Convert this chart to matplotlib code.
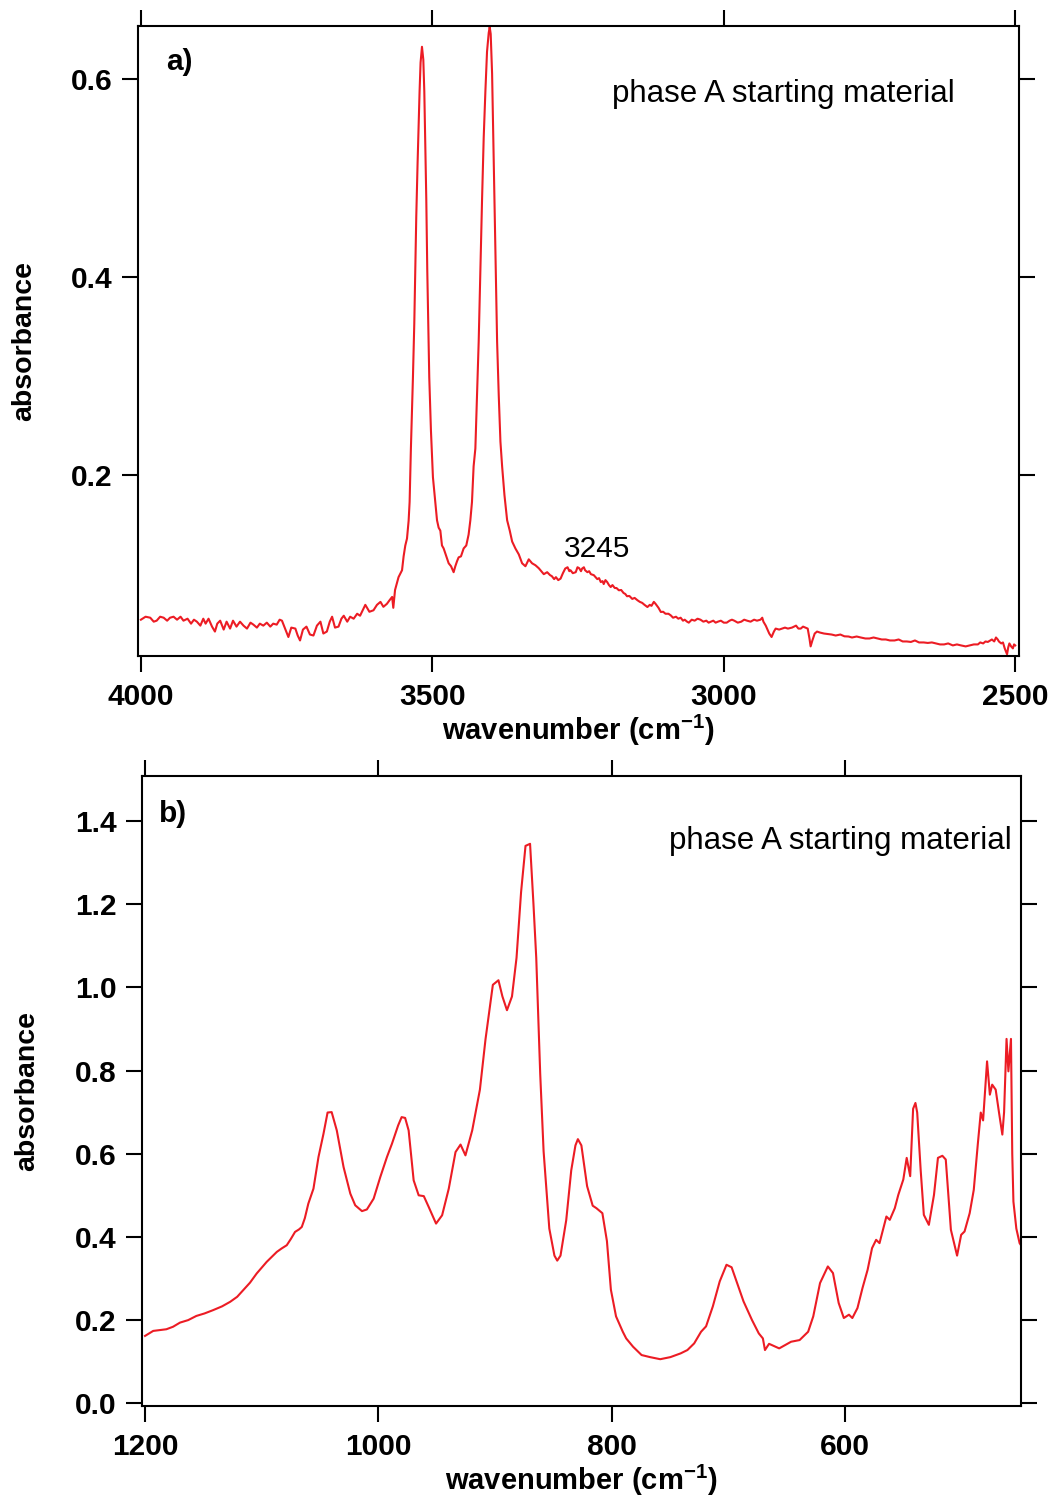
import numpy as np
import matplotlib
matplotlib.use('Agg')
import matplotlib.pyplot as plt

plt.rcParams['font.family'] = ['Liberation Sans', 'DejaVu Sans']
plt.rcParams['mathtext.fontset'] = 'custom'
plt.rcParams['mathtext.rm'] = 'Liberation Sans'
plt.rcParams['mathtext.bf'] = 'Liberation Sans:bold'

# panel a: OH stretching region (wavenumber, absorbance)
wn_a = [4000, 3992, 3984, 3978, 3973, 3967, 3961, 3955, 3950, 3944, 3938, 3932, 3927, 3920,
        3914, 3909, 3904, 3898, 3893, 3889, 3884, 3878, 3873, 3869, 3864, 3858, 3853, 3847,
        3842, 3836, 3830, 3824, 3818, 3812, 3807, 3801, 3796, 3790, 3784, 3778, 3773, 3767,
        3762, 3758, 3752, 3747, 3742, 3735, 3731, 3727, 3722, 3716, 3710, 3704, 3698, 3692,
        3687, 3681, 3676, 3672, 3667, 3661, 3656, 3652, 3646, 3641, 3635, 3629, 3624, 3619,
        3615, 3608, 3601, 3595, 3589, 3584, 3578, 3573, 3569, 3567, 3564, 3558, 3552,
        3549.3, 3546.4, 3543.5, 3540.7, 3539, 3536.8, 3535, 3533.3, 3531, 3529.3, 3527.6, 3525.3,
        3523.6, 3521.9, 3520.2, 3517.8, 3515.5, 3513.8, 3512.1, 3510.4, 3508.7, 3507, 3505.3,
        3502.4, 3499, 3494.9, 3492, 3489.2, 3486.3, 3483.5, 3480.6, 3476, 3472, 3467.9, 3463.5,
        3460.6, 3457.7, 3454.9, 3450.9, 3446.3, 3441.8, 3437.8, 3434.8, 3432, 3429.2, 3426.2,
        3423.3, 3420.5, 3417.6, 3414.7, 3411.9, 3409, 3406.2, 3403.3, 3401.6, 3399.9, 3397.5,
        3395.8, 3393.5, 3391.3, 3388.9, 3386.1, 3383.2, 3380.3, 3376.3, 3371.7, 3367.2, 3363.1,
        3357.5, 3351.7, 3346, 3340.3, 3334.6, 3328.9, 3323.1, 3317.4, 3308.8,
        3303, 3298, 3295, 3291, 3288, 3284, 3280, 3276, 3272, 3268, 3265, 3263, 3259, 3254,
        3251, 3248, 3245, 3243, 3240, 3238, 3234, 3231, 3228, 3223, 3220, 3217, 3214, 3211,
        3208, 3206, 3203, 3200, 3197, 3194, 3191, 3187, 3184, 3180, 3176, 3172, 3169, 3166,
        3162, 3157, 3153, 3148, 3144, 3140, 3136, 3131, 3127, 3124, 3120, 3117, 3112, 3108,
        3104, 3100, 3095, 3091, 3087, 3082, 3078, 3074, 3070, 3067, 3063, 3060, 3055, 3050,
        3045, 3040, 3035, 3030, 3026, 3022, 3018, 3014, 3010, 3005, 3000, 2995, 2990, 2986,
        2982, 2976, 2970, 2965, 2960, 2954, 2948, 2943, 2937, 2934, 2932, 2928, 2922, 2918,
        2914, 2911, 2905, 2900, 2895, 2890, 2883, 2876, 2872, 2868, 2864, 2860, 2856, 2853,
        2851, 2848, 2844, 2840, 2835, 2828, 2822, 2815, 2808, 2800, 2793, 2786, 2780, 2772,
        2765, 2757, 2750, 2743, 2736, 2729, 2722, 2715, 2707, 2700, 2693, 2686, 2679, 2672,
        2665, 2657, 2650, 2643, 2636, 2629, 2622, 2615, 2607, 2600, 2593, 2585, 2578, 2571,
        2564, 2560, 2555, 2551, 2547, 2543, 2540, 2536, 2533, 2530, 2528, 2524, 2521, 2518,
        2514, 2512, 2510, 2507, 2504, 2502, 2500]
abs_a = [0.054, 0.057, 0.056, 0.052, 0.053, 0.057, 0.056, 0.053, 0.056, 0.057, 0.054, 0.057, 0.053, 0.055,
         0.050, 0.054, 0.052, 0.048, 0.055, 0.050, 0.055, 0.047, 0.042, 0.050, 0.053, 0.044, 0.052, 0.045,
         0.053, 0.047, 0.052, 0.048, 0.045, 0.051, 0.049, 0.046, 0.050, 0.048, 0.051, 0.047, 0.050, 0.049,
         0.054, 0.053, 0.044, 0.0365, 0.046, 0.045, 0.038, 0.033, 0.044, 0.047, 0.039, 0.038, 0.048, 0.052,
         0.040, 0.042, 0.052, 0.057, 0.046, 0.047, 0.055, 0.058, 0.052, 0.057, 0.055, 0.060, 0.058, 0.064,
         0.069, 0.062, 0.0635, 0.069, 0.072, 0.067, 0.070, 0.074, 0.077, 0.066, 0.084, 0.097, 0.104,
         0.118, 0.129, 0.136, 0.154, 0.173, 0.227, 0.263, 0.299, 0.353, 0.407, 0.461, 0.516,
         0.552, 0.588, 0.617, 0.633, 0.620, 0.588, 0.534, 0.479, 0.407, 0.353, 0.299,
         0.245, 0.198, 0.173, 0.1545, 0.147, 0.144, 0.129, 0.126, 0.118, 0.111, 0.108, 0.102,
         0.108, 0.113, 0.117, 0.118, 0.126, 0.129, 0.140, 0.1545, 0.173, 0.209, 0.227,
         0.281, 0.335, 0.407, 0.479, 0.541, 0.588, 0.628, 0.647, 0.653, 0.646, 0.606,
         0.552, 0.479, 0.407, 0.335, 0.281, 0.234, 0.209, 0.180, 0.1545, 0.144, 0.133,
         0.126, 0.120, 0.111, 0.108, 0.115, 0.111, 0.109, 0.106, 0.100,
         0.102, 0.099, 0.098, 0.095, 0.097, 0.094, 0.0955, 0.101, 0.1057, 0.107, 0.103, 0.104, 0.101, 0.102,
         0.107, 0.106, 0.103, 0.1057, 0.107, 0.104, 0.102, 0.103, 0.100, 0.099, 0.097, 0.095, 0.096, 0.092,
         0.093, 0.090, 0.094, 0.092, 0.089, 0.087, 0.089, 0.086, 0.086, 0.0837, 0.084, 0.081, 0.080, 0.0777,
         0.078, 0.075, 0.076, 0.0736, 0.072, 0.071, 0.069, 0.0668, 0.069, 0.068, 0.072, 0.070, 0.066, 0.0618,
         0.062, 0.060, 0.060, 0.0584, 0.056, 0.057, 0.055, 0.056, 0.053, 0.054, 0.052, 0.051, 0.054, 0.053,
         0.055, 0.054, 0.052, 0.053, 0.051, 0.052, 0.053, 0.051, 0.052, 0.053, 0.051, 0.051, 0.053, 0.054,
         0.053, 0.051, 0.052, 0.054, 0.053, 0.052, 0.054, 0.053, 0.054, 0.056, 0.052, 0.048, 0.040, 0.0365,
         0.042, 0.045, 0.044, 0.045, 0.046, 0.045, 0.046, 0.048, 0.045, 0.045, 0.047, 0.046, 0.045, 0.035,
         0.027, 0.033, 0.040, 0.042, 0.041, 0.040, 0.0395, 0.039, 0.038, 0.039, 0.0372, 0.037, 0.036, 0.037,
         0.036, 0.035, 0.035, 0.036, 0.035, 0.034, 0.034, 0.033, 0.033, 0.034, 0.032, 0.032, 0.0315, 0.033,
         0.031, 0.031, 0.0305, 0.031, 0.030, 0.029, 0.029, 0.030, 0.028, 0.029, 0.028, 0.027, 0.028, 0.029,
         0.029, 0.031, 0.030, 0.032, 0.0315, 0.033, 0.034, 0.032, 0.036, 0.034, 0.032, 0.030, 0.031, 0.025,
         0.019, 0.026, 0.030, 0.027, 0.025, 0.029, 0.028]

# panel b: lattice region
wn_b = [1200, 1193, 1187, 1181.7, 1176, 1170, 1163, 1156, 1149, 1141.6, 1134, 1127, 1121, 1115.8,
        1110, 1104.3, 1100, 1095.7, 1091, 1087, 1083, 1078.5, 1075, 1071.4, 1068, 1065.6, 1063,
        1060, 1055.6, 1051.3, 1047, 1043.5, 1040, 1035.6, 1029.8, 1024, 1019.8, 1014, 1009.8,
        1004, 998.3, 992.6, 988.3, 983, 980, 977, 974, 969.7, 965.4, 961, 956.8, 950.5, 945.3,
        939.6, 933.8, 929.5, 925.3, 919.5, 912.9, 908.1, 901.8, 897, 893.6, 889.7, 885.4, 881.5,
        877.6, 873.8, 869.9, 867, 864.6, 861.2, 858.3, 853.4, 849, 846.6, 843.8, 838.9, 834.6,
        831, 828.9, 825.9, 821, 816.2, 813, 807.9, 804, 800.6, 796.2, 790.4, 787.5, 781.6, 774.3,
        767, 758.3, 749.6, 740.8, 735, 729.2, 723.3, 719, 713.2, 707.3, 701.5, 697.1, 686.9,
        679.6, 673.8, 670.3, 668.5, 665, 656.3, 646.1,
        638.8, 631.5, 627.1, 621.3, 614.6, 610.2, 605.3, 600.9, 596.5, 593.6, 589.2, 584.9, 580.5,
        576.7, 573.2, 570.3, 564.4, 561.5, 557.2, 554.2, 549.9, 547, 544, 541.5, 539.5, 538, 535,
        532.3, 528, 523.6, 520.2, 516.4, 513.5, 509.1, 503.8, 500.3, 497.4, 493, 489.5, 486,
        483.5, 481.5, 478.1, 475.7, 473.7, 470.7, 467.8, 465, 463.5, 461.4, 459.8, 457.6, 456.5,
        455.5, 453, 450.2, 449]
abs_b = [0.162, 0.174, 0.176, 0.178, 0.184, 0.194, 0.200, 0.210, 0.216, 0.224, 0.233, 0.244, 0.256, 0.272,
         0.290, 0.312, 0.326, 0.340, 0.353, 0.364, 0.372, 0.380, 0.395, 0.412, 0.418, 0.424, 0.445,
         0.480, 0.516, 0.592, 0.648, 0.699, 0.700, 0.656, 0.568, 0.504, 0.476, 0.462, 0.466,
         0.492, 0.544, 0.592, 0.624, 0.668, 0.688, 0.686, 0.656, 0.536, 0.500, 0.498, 0.472, 0.432, 0.452,
         0.516, 0.604, 0.622, 0.596, 0.656, 0.754, 0.875, 1.006, 1.017, 0.978, 0.945, 0.978, 1.071,
         1.229, 1.340, 1.345, 1.201, 1.071, 0.792, 0.606, 0.420, 0.355, 0.343, 0.355, 0.440, 0.560,
         0.620, 0.635, 0.620, 0.522, 0.475, 0.469, 0.457, 0.390, 0.273, 0.209, 0.172, 0.156, 0.136, 0.116,
         0.111, 0.106, 0.111, 0.120, 0.128, 0.144, 0.172, 0.185, 0.233, 0.293, 0.333, 0.327, 0.245,
         0.200, 0.168, 0.156, 0.128, 0.143, 0.132, 0.148,
         0.152, 0.172, 0.209, 0.289, 0.329, 0.313, 0.241, 0.205, 0.213, 0.205, 0.229, 0.277, 0.321,
         0.373, 0.393, 0.385, 0.449, 0.441, 0.469, 0.501, 0.538, 0.590, 0.546, 0.708, 0.722, 0.699, 0.560,
         0.453, 0.429, 0.501, 0.590, 0.595, 0.586, 0.417, 0.355, 0.405, 0.413, 0.457, 0.513, 0.624,
         0.699, 0.680, 0.822, 0.742, 0.766, 0.754, 0.698, 0.646, 0.700, 0.876, 0.798, 0.876, 0.600,
         0.485, 0.420, 0.385, 0.380]

red = '#ec1c24'
W, H = 1052, 1500
fig = plt.figure(figsize=(W / 100, H / 100), dpi=100)

ax1 = fig.add_axes([138 / W, 1 - 656 / H, (1019 - 138) / W, (656 - 26) / H])
ax2 = fig.add_axes([142 / W, 1 - 1406 / H, (1021 - 142) / W, (1406 - 776) / H])

ax1.plot(wn_a, abs_a, color=red, lw=1.5)
ax1.set_xlim(4005, 2493.5)
ax1.set_ylim(0.0173, 0.654)
ax1.set_xticks([4000, 3500, 3000, 2500])
ax1.set_yticks([0.2, 0.4, 0.6])
ax1.set_yticklabels(['0.2', '0.4', '0.6'])

ax2.plot(wn_b, abs_b, color=red, lw=1.5)
ax2.set_xlim(1202.6, 449)
ax2.set_ylim(-0.0065, 1.508)
ax2.set_xticks([1200, 1000, 800, 600])
ax2.set_yticks(np.arange(0, 1.41, 0.2))
ax2.set_yticklabels(['%.1f' % v for v in np.arange(0, 1.41, 0.2)])

for ax in (ax1, ax2):
    for s in ax.spines.values():
        s.set_linewidth(1.5)
    ax.tick_params(direction='out', length=11.5, width=1.5, top=True, right=True,
                   labelsize=21.5, labeltop=False, labelright=False)
    ax.tick_params(axis='x', pad=8)
    ax.tick_params(axis='y', pad=6.5)
    for lab in ax.get_xticklabels() + ax.get_yticklabels():
        lab.set_fontweight('bold')

ax1.text(3275, 0.117, '3245', fontsize=21.5, va='baseline', ha='left')
ax1.text(3191, 0.577, 'phase A starting material', fontsize=22.5, va='baseline', ha='left')
ax2.text(751, 1.332, 'phase A starting material', fontsize=22.5, va='baseline', ha='left')

fig.text(166 / W, 1 - 70 / H, 'a)', fontsize=21.5, fontweight='bold', va='baseline', ha='left')
fig.text(159 / W, 1 - 822 / H, 'b)', fontsize=21.5, fontweight='bold', va='baseline', ha='left')

xlab = r'wavenumber (cm$^{\mathbf{-1}}$)'
fig.text(578 / W, 1 - 740 / H, xlab, fontsize=21, fontweight='bold', va='baseline', ha='center')
fig.text(581 / W, 1 - 1490 / H, xlab, fontsize=21, fontweight='bold', va='baseline', ha='center')
fig.text(24 / W, 1 - 341 / H, 'absorbance', fontsize=20.5, fontweight='bold', rotation=90,
         va='center', ha='center')
fig.text(27 / W, 1 - 1091 / H, 'absorbance', fontsize=20.5, fontweight='bold', rotation=90,
         va='center', ha='center')

fig.savefig('out.png', dpi=100)
